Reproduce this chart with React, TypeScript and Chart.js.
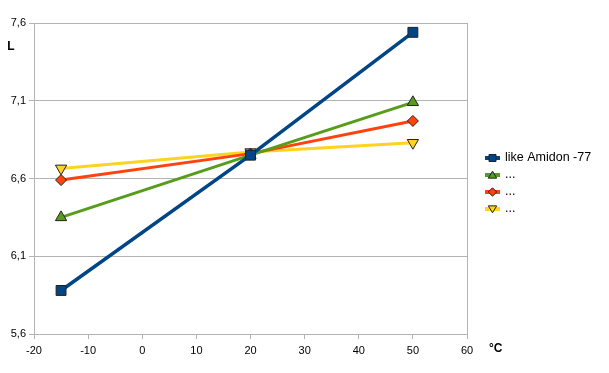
import React, { useEffect, useRef } from "react";
import { Chart, registerables } from "chart.js";

Chart.register(...registerables);

const temps = [-15, 20, 50];
const seriesNames = ["like Amidon -77", "...", "...", "..."];
const blueVals = [5.88, 6.75, 7.54];
const greenVals = [6.35, 6.75, 7.09];
const redVals = [6.59, 6.76, 6.97];
const yellowVals = [6.665, 6.77, 6.83];
const xTicks = [-20, -10, 0, 10, 20, 30, 40, 50, 60];
const yTicks = [5.6, 6.1, 6.6, 7.1, 7.6];

const colors = ["#004586", "#579d1c", "#ff420e", "#ffd320"];
const styles = ["rect", "triangle", "rectRot", "triangle"];
const rotations = [0, 0, 0, 180];
const radii = [7, 6.5, 5.5, 6.5];
const valueSets = [blueVals, greenVals, redVals, yellowVals];

const GRID = "#b3b3b3";

function drawMarker(ctx: CanvasRenderingContext2D, style: string, rot: number, x: number, y: number, s: number) {
  ctx.beginPath();
  if (style === "rect") {
    ctx.rect(x - s, y - s, 2 * s, 2 * s);
  } else if (style === "rectRot") {
    ctx.moveTo(x, y - s * 1.2);
    ctx.lineTo(x + s * 1.2, y);
    ctx.lineTo(x, y + s * 1.2);
    ctx.lineTo(x - s * 1.2, y);
    ctx.closePath();
  } else {
    const d = rot === 180 ? -1 : 1;
    ctx.moveTo(x, y - d * s * 1.1);
    ctx.lineTo(x + s * 1.2, y + d * s * 0.9);
    ctx.lineTo(x - s * 1.2, y + d * s * 0.9);
    ctx.closePath();
  }
  ctx.fill();
  ctx.stroke();
}

const overlayPlugin = {
  id: "overlay",
  afterDraw(chart: any) {
    const ctx: CanvasRenderingContext2D = chart.ctx;
    ctx.save();
    ctx.fillStyle = "#000";
    ctx.font = "bold 12px 'Liberation Sans', Arial, sans-serif";
    ctx.textAlign = "center";
    ctx.textBaseline = "middle";
    ctx.fillText("L", 11, 47);
    ctx.textAlign = "left";
    ctx.fillText("°C", 489, 349);

    const rowY = [158, 175, 192, 209];
    seriesNames.forEach((name, i) => {
      const y = rowY[i];
      ctx.strokeStyle = colors[i];
      ctx.lineWidth = 4;
      ctx.beginPath();
      ctx.moveTo(485, y);
      ctx.lineTo(500, y);
      ctx.stroke();
      ctx.fillStyle = colors[i];
      ctx.strokeStyle = "#222";
      ctx.lineWidth = 1;
      drawMarker(ctx, styles[i], rotations[i], 492.5, y, 3.5);
      ctx.fillStyle = "#000";
      ctx.font = "12.5px 'Liberation Sans', Arial, sans-serif";
      ctx.textAlign = "left";
      ctx.textBaseline = "middle";
      ctx.fillText(name, 505, y);
    });
    ctx.restore();
  },
};

export default function App() {
  const ref = useRef<HTMLCanvasElement>(null);
  useEffect(() => {
    if (!ref.current) return;
    const tickFont = { family: "'Liberation Sans Narrow', 'Liberation Sans', Arial, sans-serif", size: 11 };
    const chart = new Chart(ref.current, {
      type: "line",
      data: {
        datasets: valueSets.map((vals, i) => ({
          label: seriesNames[i],
          data: temps.map((t, j) => ({ x: t, y: vals[j] })),
          borderColor: colors[i],
          backgroundColor: colors[i],
          borderWidth: i === 0 ? 3.5 : 3,
          pointStyle: styles[i] as any,
          pointRotation: rotations[i],
          pointRadius: radii[i],
          pointHoverRadius: radii[i],
          pointBackgroundColor: colors[i],
          pointBorderColor: "#222",
          pointBorderWidth: 1,
          tension: 0,
          fill: false,
        })),
      },
      options: {
        responsive: false,
        animation: false,
        layout: { padding: { left: 0, right: 142, top: 23, bottom: 0 } },
        plugins: { legend: { display: false }, tooltip: { enabled: false } },
        scales: {
          x: {
            type: "linear",
            min: -20,
            max: 60,
            afterBuildTicks: (s: any) => {
              s.ticks = xTicks.map((v) => ({ value: v }));
            },
            afterFit: (s: any) => {
              s.height = 39;
            },
            ticks: {
              color: "#000",
              font: tickFont,
              padding: 5,
              maxRotation: 0,
              callback: (v: any) => String(v),
            },
            grid: {
              color: (c: any) => (c.tick && (c.tick.value === -20 || c.tick.value === 60) ? GRID : "rgba(0,0,0,0)"),
              tickColor: GRID,
              tickLength: 5,
              lineWidth: 1,
            },
            border: { display: true, color: GRID },
          },
          y: {
            type: "linear",
            min: 5.6,
            max: 7.6,
            afterBuildTicks: (s: any) => {
              s.ticks = yTicks.map((v) => ({ value: v }));
            },
            afterFit: (s: any) => {
              s.width = 34;
            },
            ticks: {
              color: "#000",
              font: tickFont,
              padding: 3,
              callback: (v: any) => Number(v).toFixed(1).replace(".", ","),
            },
            grid: { color: GRID, tickColor: GRID, tickLength: 5, lineWidth: 1 },
            border: { display: true, color: GRID },
          },
        },
      },
      plugins: [overlayPlugin],
    });
    return () => chart.destroy();
  }, []);
  return (
    <div style={{ position: "absolute", left: 0, top: 0, width: 609, height: 373, background: "#fff" }}>
      <canvas ref={ref} width={609} height={373} style={{ width: 609, height: 373, display: "block" }} />
    </div>
  );
}
